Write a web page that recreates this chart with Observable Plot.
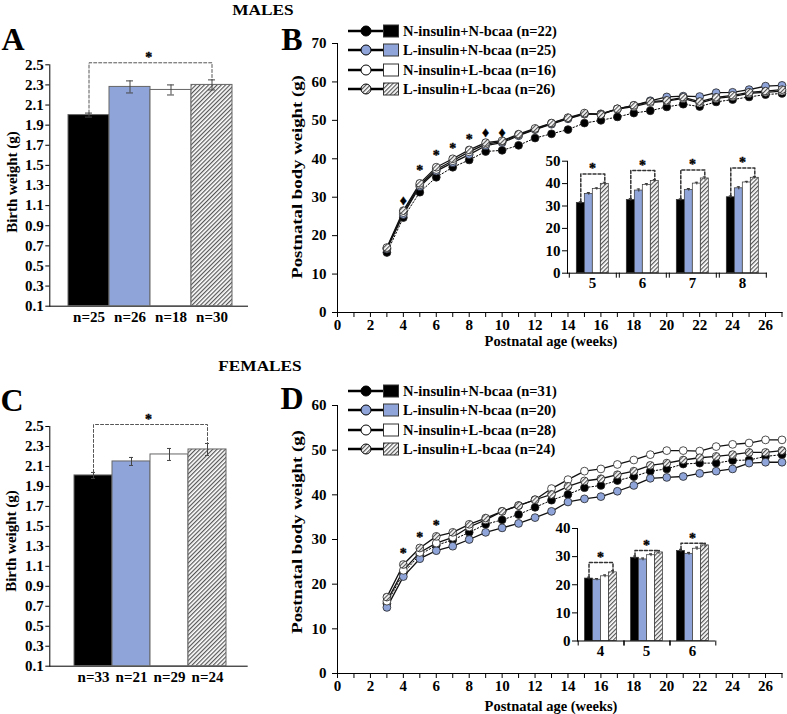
<!DOCTYPE html>
<html><head><meta charset="utf-8">
<script src="https://cdn.jsdelivr.net/npm/d3@7"></script>
<script src="https://cdn.jsdelivr.net/npm/@observablehq/plot@0.6"></script>
<style>
body{margin:0;background:#fff;}
#root{position:relative;width:787px;height:714px;overflow:hidden;font-family:"Liberation Serif","Times New Roman",serif;font-weight:bold;color:#000;}
</style></head><body>
<svg width="0" height="0" style="position:absolute">
 <defs>
  <pattern id="hatch" patternUnits="userSpaceOnUse" width="3" height="3" patternTransform="rotate(45)">
   <rect width="3" height="3" fill="#fff"/>
   <line x1="0.6" y1="0" x2="0.6" y2="3" stroke="#555" stroke-width="1.2"/>
  </pattern>
 </defs>
</svg>
<div id="root"></div>
<script>
// ---------- data ----------
const groups = ["N-insulin+N-bcaa", "L-insulin+N-bcaa", "N-insulin+L-bcaa", "L-insulin+L-bcaa"];
const groupFill = ["#000000", "#8fa5da", "#ffffff", "url(#hatch)"];
const maleLegendN = ["(n=22)", "(n=25)", "(n=16)", "(n=26)"];
const femaleLegendN = ["(n=31)", "(n=20)", "(n=28)", "(n=24)"];

// Birth weight (A, C)
const birthTicks = [0.1, 0.3, 0.5, 0.7, 0.9, 1.1, 1.3, 1.5, 1.7, 1.9, 2.1, 2.3, 2.5];
const maleBirthMean = [2.00, 2.28, 2.25, 2.30];
const maleBirthSem = [0.02, 0.06, 0.05, 0.05];
const maleBirthN = ["n=25", "n=26", "n=18", "n=30"];
const maleBirthBracket = 2.52;
const femaleBirthMean = [2.01, 2.15, 2.22, 2.27];
const femaleBirthSem = [0.03, 0.04, 0.06, 0.06];
const femaleBirthN = ["n=33", "n=21", "n=29", "n=24"];
const femaleBirthBracket = 2.52;

// Postnatal growth (B, D)
const weeks = [3,4,5,6,7,8,9,10,11,12,13,14,15,16,17,18,19,20,21,22,23,24,25,26,27];
const weekTicks = [0,1,2,3,4,5,6,7,8,9,10,11,12,13,14,15,16,17,18,19,20,21,22,23,24,25,26,27];
const weekTickLabels = [0,2,4,6,8,10,12,14,16,18,20,22,24,26];

const maleNN = [15.6,24.7,31.3,35.2,37.8,39.7,41.9,42.2,43.5,45.4,46.5,47.6,49.3,50.0,50.9,51.9,52.5,53.5,54.2,53.6,54.8,55.4,56.1,56.7,57.0];
const maleLN = [16.5,25.5,32.8,36.8,39.0,41.1,43.4,44.2,46.0,47.6,49.0,50.4,51.6,51.7,53.0,53.9,55.1,56.1,56.3,56.2,57.2,57.3,58.0,58.9,59.1];
const maleNL = [16.7,26.0,33.2,37.2,39.5,41.8,43.8,44.5,46.2,47.7,49.2,50.6,51.7,51.6,52.9,53.6,54.6,55.0,55.7,54.5,55.7,56.2,57.0,57.3,57.6];
const maleLL = [16.9,26.5,33.6,37.8,40.0,42.3,44.2,44.7,46.4,47.9,49.3,50.7,51.9,51.5,53.0,53.9,54.9,55.2,56.0,54.9,56.0,56.5,57.3,57.6,58.0];
const maleMarkWeeks = [4,5,6,7,8,9,10];
const maleMarkText = ["♦","*","*","*","*","♦","♦"];
const maleMarkY = [29.1,37.0,40.9,42.8,45.0,46.8,46.9];
const maleYTicks = [0,10,20,30,40,50,60,70];

const femaleNN = [15.7,22.5,26.6,28.7,29.9,31.6,33.4,34.4,35.6,37.2,38.8,40.1,41.6,42.1,43.2,44.1,45.3,45.8,46.9,47.1,47.1,47.7,47.8,48.6,49.0];
const femaleLN = [14.8,21.7,25.7,27.5,28.5,30.0,31.6,32.6,33.6,34.9,36.3,38.4,39.1,39.6,40.8,42.1,43.7,43.9,44.1,44.8,45.3,45.8,47.1,47.3,47.3];
const femaleNL = [16.2,23.1,27.1,29.2,30.5,32.8,34.4,36.3,37.6,38.9,41.4,43.4,45.3,45.8,46.8,47.8,49.0,49.9,49.9,49.8,50.8,51.3,51.6,52.3,52.3];
const femaleLL = [17.1,24.4,28.1,30.7,31.6,33.4,34.8,36.3,37.6,38.9,40.1,41.9,43.1,43.6,44.5,45.3,46.6,47.1,47.8,48.3,48.6,49.0,49.5,49.5,49.9];
const femaleMarkWeeks = [4,5,6];
const femaleMarkText = ["*","*","*"];
const femaleMarkY = [26.8,30.5,33.1];
const femaleYTicks = [0,10,20,30,40,50,60];

// Insets
const maleInsetWeeks = [5,6,7,8];
const maleInsetNN = [31.4,32.7,32.7,33.9];
const maleInsetLN = [35.4,36.9,37.2,37.9];
const maleInsetNL = [37.6,39.4,40.0,40.5];
const maleInsetLL = [39.9,41.2,42.3,42.6];
const maleInsetSemNN = [0.5,0.6,0.5,0.6];
const maleInsetSemLN = [0.6,0.7,0.6,0.7];
const maleInsetSemNL = [0.5,0.6,0.6,0.5];
const maleInsetSemLL = [0.7,0.6,0.7,0.6];
const maleInsetBracket = [44.3,45.8,46.1,47.0];
const maleInsetTicks = [0,10,20,30,40,50];

const femaleInsetWeeks = [4,5,6];
const femaleInsetNN = [22.2,29.6,32.0];
const femaleInsetLN = [21.8,29.0,31.0];
const femaleInsetNL = [23.0,30.5,32.8];
const femaleInsetLL = [24.4,31.5,34.0];
const femaleInsetSemNN = [0.5,0.6,0.6];
const femaleInsetSemLN = [0.4,0.5,0.5];
const femaleInsetSemNL = [0.5,0.5,0.6];
const femaleInsetSemLL = [0.6,0.7,0.7];
const femaleInsetBracket = [27.9,32.2,34.8];
const femaleInsetTicks = [0,10,20,30,40];

// ---------- helpers ----------
const root = document.getElementById("root");
const baseStyle = {fontFamily: "'Liberation Serif','Times New Roman',serif", fontWeight: "bold", fontSize: "15px", background: "transparent", overflow: "visible", color: "#000"};
const starStyle = {fill: "#000", stroke: "#000", strokeWidth: 0.4, fontSize: 14};
function put(el, left, top) {
  el.style.position = "absolute"; el.style.left = left + "px"; el.style.top = top + "px";
  root.appendChild(el); return el;
}
function label(text, x, y, {size = 15, rotate = 0, sx = 1} = {}) {
  const d = document.createElement("div");
  d.textContent = text;
  d.style.cssText = `position:absolute;left:${x}px;top:${y}px;font-size:${size}px;line-height:1;white-space:nowrap;transform:translate(-50%,-50%) rotate(${rotate}deg) scaleX(${sx});`;
  root.appendChild(d);
  return d;
}

function birthPlot({means, sems, ns, bracket, paddingOuter, align, marginTop, marginBottom, marginLeft, marginRight, width, height}) {
  const rows = groups.map((g, i) => ({g, v: means[i], e: sems[i]}));
  const br = [
    {g: groups[0], y: means[0] + sems[0]}, {g: groups[0], y: bracket},
    {g: groups[3], y: bracket}, {g: groups[3], y: means[3] + sems[3]}
  ];
  return Plot.plot({
    width, height, marginTop, marginBottom, marginLeft, marginRight,
    style: baseStyle,
    x: {domain: groups, paddingInner: 0, paddingOuter, align, tickSize: 0, tickPadding: 5,
        tickFormat: d => ns[groups.indexOf(d)], line: true, label: null},
    y: {domain: [0.1, 2.5], ticks: birthTicks, tickFormat: d3.format(".1f"), tickSize: 4, tickPadding: 2, line: true, label: null},
    color: {domain: groups, range: groupFill},
    marks: [
      Plot.barY(rows, {x: "g", y1: 0.1, y2: "v", fill: "g", stroke: "#666", strokeWidth: 1}),
      Plot.ruleX(rows, {x: "g", y1: d => d.v - d.e, y2: d => d.v + d.e, stroke: "#444"}),
      Plot.tickY(rows, {x: "g", y: d => d.v + d.e, insetLeft: 17, insetRight: 17, stroke: "#444"}),
      Plot.tickY(rows, {x: "g", y: d => d.v - d.e, insetLeft: 17, insetRight: 17, stroke: "#444"}),
      Plot.line(br, {x: "g", y: "y", stroke: "#555", strokeWidth: 1, strokeDasharray: "3,2"}),
      Plot.text([bracket], {y: d => d, text: () => "*", dy: -5, ...starStyle})
    ]
  });
}

function seriesRows(series) {
  return series.flatMap((vals, gi) => vals.map((v, i) => ({week: weeks[i], value: v, g: groups[gi]})));
}

function growthPlot({series, markWeeks, markText, markY, yMax, yTicks, width, height, marginTop, marginBottom, marginLeft, marginRight}) {
  const rows = seriesRows(series);
  const marks = markWeeks.map((w, i) => ({week: w, s: markText[i], y: markY[i]}));
  return Plot.plot({
    width, height, marginTop, marginBottom, marginLeft, marginRight,
    style: baseStyle,
    x: {domain: [0, 27], ticks: weekTicks, tickFormat: d => weekTickLabels.includes(d) ? d : "", tickSize: 5, tickPadding: 2, line: true, label: null},
    y: {domain: [0, yMax], ticks: yTicks, tickSize: 5, tickPadding: 6, line: true, label: null},
    color: {domain: groups, range: groupFill},
    marks: [
      Plot.line(rows.filter(d => d.g === groups[0]), {x: "week", y: "value", stroke: "#000", strokeWidth: 1, strokeDasharray: "1.5,2"}),
      Plot.line(rows.filter(d => d.g !== groups[0]), {x: "week", y: "value", z: "g", stroke: "#111", strokeWidth: 1.3}),
      Plot.dot(rows, {x: "week", y: "value", fill: "g", stroke: "#222", strokeWidth: 0.8, r: 3.9}),
      Plot.text(marks, {x: "week", y: "y", text: "s", ...starStyle})
    ]
  });
}

function insetPlot({iweeks, series, sems, brackets, yMax, yTicks, paddingOuter, edge, width, height, marginTop, marginBottom, marginLeft, marginRight}) {
  const rows = iweeks.flatMap((w, wi) => groups.map((g, gi) => ({week: w, g, v: series[gi][wi], e: sems[gi][wi]})));
  const br = iweeks.flatMap((w, wi) => [
    {week: w, g: groups[0], y: series[0][wi] + sems[0][wi]}, {week: w, g: groups[0], y: brackets[wi]},
    {week: w, g: groups[3], y: brackets[wi]}, {week: w, g: groups[3], y: series[3][wi] + sems[3][wi]}
  ]);
  const stars = iweeks.map((w, wi) => ({week: w, y: brackets[wi]}));
  return Plot.plot({
    width, height, marginTop, marginBottom, marginLeft, marginRight,
    style: baseStyle,
    fx: {domain: iweeks, padding: 0, axis: "bottom", tickSize: 0, tickPadding: 4, label: null},
    x: {domain: groups, paddingInner: 0, paddingOuter, axis: null},
    y: {domain: [0, yMax], ticks: yTicks, tickSize: 5, tickPadding: 2, line: true, label: null},
    color: {domain: groups, range: groupFill},
    marks: [
      Plot.barY(rows, {fx: "week", x: "g", y: "v", fill: "g", stroke: "#333", strokeWidth: 0.7}),
      Plot.ruleX(rows, {fx: "week", x: "g", y1: d => d.v - d.e, y2: d => d.v + d.e, stroke: "#333"}),
      Plot.tickY(rows, {fx: "week", x: "g", y: d => d.v + d.e, insetLeft: 2.5, insetRight: 2.5, stroke: "#333"}),
      Plot.line(br, {fx: "week", x: "g", y: "y", z: "week", stroke: "#333", strokeDasharray: "3,2"}),
      Plot.text(stars, {fx: "week", y: "y", text: () => "*", dy: -5, ...starStyle}),
      Plot.ruleY([0], {stroke: "#000"}),
      Plot.ruleX([groups[0]], {x: d => d, y1: 0, y2: 0, insetBottom: -5, dx: -edge}),
      Plot.ruleX([groups[3]], {x: d => d, y1: 0, y2: 0, insetBottom: -5, dx: edge})
    ]
  });
}

function legend(nLabels, rowCenters) {
  groups.forEach((g, i) => {
    const rc = rowCenters[i];
    const s = document.createElementNS("http://www.w3.org/2000/svg", "svg");
    s.setAttribute("width", 52); s.setAttribute("height", 16);
    s.innerHTML = `<line x1="0" y1="8" x2="35" y2="8" stroke="#000" stroke-width="2.5"/>
      <circle cx="18" cy="8" r="5" fill="${groupFill[i]}" stroke="#000" stroke-width="1"/>
      <rect x="35.5" y="2" width="15" height="12" fill="${groupFill[i]}" stroke="#333" stroke-width="1"/>`;
    put(s, 348, rc - 8);
    const t = document.createElement("div");
    t.textContent = `${g} ${nLabels[i]}`;
    t.style.cssText = `position:absolute;left:403px;top:${rc}px;font-size:14.5px;line-height:1;white-space:nowrap;transform:translateY(-50%);`;
    root.appendChild(t);
  });
}

// ---------- panels ----------
put(birthPlot({means: maleBirthMean, sems: maleBirthSem, ns: maleBirthN, bracket: maleBirthBracket,
  paddingOuter: 0.37, align: 0.55, width: 260, height: 330, marginTop: 64.3, marginBottom: 24.3, marginLeft: 49.3, marginRight: 13}), 0, 0);
put(birthPlot({means: femaleBirthMean, sems: femaleBirthSem, ns: femaleBirthN, bracket: femaleBirthBracket,
  paddingOuter: 0.54, align: 0.55, width: 260, height: 330, marginTop: 66, marginBottom: 24.3, marginLeft: 49.3, marginRight: 13.3}), 0, 360);

put(growthPlot({series: [maleNN, maleLN, maleNL, maleLL], markWeeks: maleMarkWeeks, markText: maleMarkText, markY: maleMarkY,
  yMax: 70, yTicks: maleYTicks, width: 497, height: 340, marginTop: 43, marginBottom: 28, marginLeft: 47, marginRight: 5.5}), 290, 0);
put(growthPlot({series: [femaleNN, femaleLN, femaleNL, femaleLL], markWeeks: femaleMarkWeeks, markText: femaleMarkText, markY: femaleMarkY,
  yMax: 60, yTicks: femaleYTicks, width: 497, height: 340, marginTop: 45, marginBottom: 27, marginLeft: 47, marginRight: 5.5}), 290, 360);

put(insetPlot({iweeks: maleInsetWeeks, series: [maleInsetNN, maleInsetLN, maleInsetNL, maleInsetLL],
  sems: [maleInsetSemNN, maleInsetSemLN, maleInsetSemNL, maleInsetSemLL], brackets: maleInsetBracket,
  yMax: 50, yTicks: maleInsetTicks, paddingOuter: 0.78, edge: 11.5,
  width: 250, height: 160, marginTop: 20.7, marginBottom: 27.3, marginLeft: 36.7, marginRight: 13.3}), 530, 140);
put(insetPlot({iweeks: femaleInsetWeeks, series: [femaleInsetNN, femaleInsetLN, femaleInsetNL, femaleInsetLL],
  sems: [femaleInsetSemNN, femaleInsetSemLN, femaleInsetSemNL, femaleInsetSemLL], brackets: femaleInsetBracket,
  yMax: 40, yTicks: femaleInsetTicks, paddingOuter: 0.8, edge: 10.8,
  width: 200, height: 170, marginTop: 28, marginBottom: 29.5, marginLeft: 36.5, marginRight: 24.3}), 540, 500);

// ---------- text ----------
label("MALES", 263, 10, {size: 15, sx: 1.15});
label("FEMALES", 260, 366, {size: 15, sx: 1.15});
label("A", 13, 39, {size: 32});
label("B", 292, 39, {size: 32});
label("C", 12, 400, {size: 32});
label("D", 292, 398, {size: 32});
label("Birth weight (g)", 11.5, 182, {size: 15, rotate: -90});
label("Birth weight (g)", 10.5, 541, {size: 15, rotate: -90});
label("Postnatal body weight (g)", 297, 177, {size: 15, rotate: -90, sx: 1.25});
label("Postnatal body weight (g)", 297, 532, {size: 15, rotate: -90, sx: 1.25});
label("Postnatal age (weeks)", 551, 341, {size: 14.5});
label("Postnatal age (weeks)", 551, 706, {size: 14.5});

legend(maleLegendN, [30.7, 50, 70, 89.3]);
legend(femaleLegendN, [390.7, 410, 430, 449.3]);
</script>
</body></html>
